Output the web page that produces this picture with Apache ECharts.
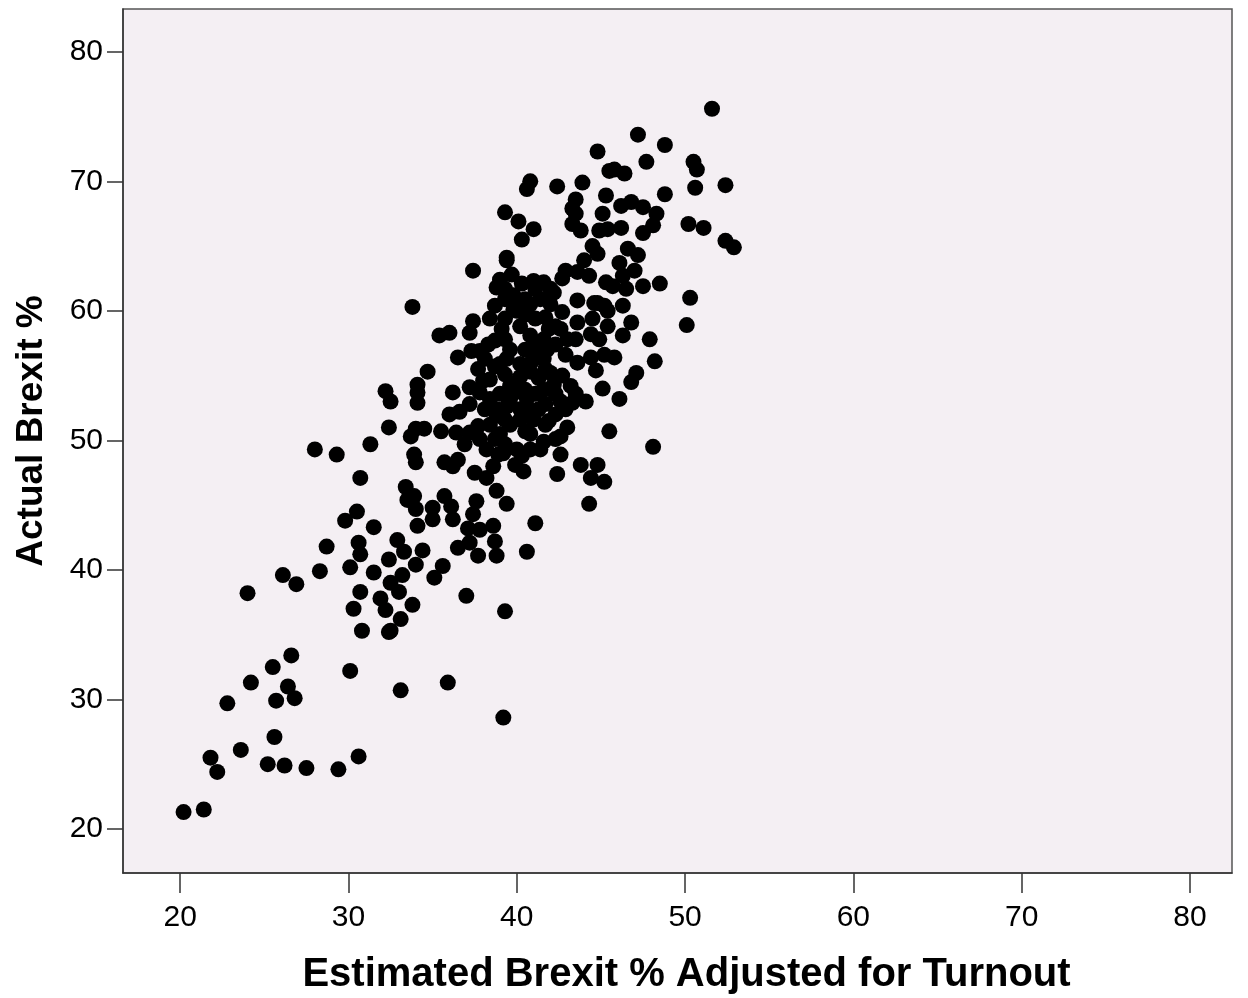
<!DOCTYPE html>
<html>
<head>
<meta charset="utf-8">
<script src="https://cdn.jsdelivr.net/npm/echarts@6/dist/echarts.min.js"></script>
<style>
html,body{margin:0;padding:0;background:#fff;}
#chart{width:1248px;height:998px;}
</style>
</head>
<body>
<div id="chart"></div>
<script>
var xTicks = [20, 30, 40, 50, 60, 70, 80];
var yTicks = [20, 30, 40, 50, 60, 70, 80];
var xTitle = 'Estimated Brexit % Adjusted for Turnout';
var yTitle = 'Actual Brexit %';

var lowerTail = [[20.2,21.3],[21.4,21.5],[21.8,25.5],[22.2,24.4],[22.8,29.7],[23.6,26.1],[24.0,38.2],[24.2,31.3],[25.2,25.0],[25.5,32.5],[25.6,27.1],[25.7,29.9],[26.1,39.6],[26.2,24.9],[26.4,31.0],[26.6,33.4],[26.8,30.1],[26.9,38.9],[27.5,24.7],[28.3,39.9],[29.4,24.6],[30.1,40.2],[30.1,32.2],[30.3,37.0],[30.6,25.6],[30.7,38.3],[30.8,35.3],[31.5,39.8],[31.9,37.8],[32.2,36.9],[32.4,35.2]];

var midCluster = [[32.2,53.8],[32.5,53.0],[34.1,54.3],[34.7,55.3],[34.1,53.7],[34.1,52.9],[36.2,53.7],[36.0,52.0],[36.6,52.2],[32.4,51.0],[33.7,50.3],[34.0,50.9],[34.5,50.9],[35.5,50.7],[36.4,50.6],[28.0,49.3],[29.3,48.9],[31.3,49.7],[33.9,48.9],[34.0,48.3],[35.7,48.3],[36.2,48.0],[36.5,48.5],[30.7,47.1],[33.4,46.4],[33.5,45.4],[33.9,45.7],[34.0,44.7],[34.1,43.4],[35.0,44.8],[35.0,43.9],[35.7,45.7],[36.1,44.9],[36.2,43.9],[30.5,44.5],[29.8,43.8],[31.5,43.3],[28.7,41.8],[30.6,42.1],[30.7,41.2],[32.9,42.3],[33.3,41.4],[34.4,41.5],[32.4,40.8],[34.0,40.4],[33.2,39.6],[32.5,39.0],[35.6,40.3],[35.1,39.4],[33.0,38.3],[33.8,37.3],[33.1,36.2],[32.5,35.3],[37.5,47.5],[38.6,48.0],[40.4,47.6],[37.6,45.3],[37.4,44.3],[37.1,43.2],[36.5,41.7],[37.2,42.1],[37.7,41.1],[38.2,47.1],[38.8,46.1],[39.4,45.1],[37.8,43.1],[38.6,43.4],[38.7,42.2],[38.8,41.1],[41.1,43.6],[40.6,41.4],[37.0,38.0],[39.3,36.8],[33.1,30.7],[35.9,31.3],[39.2,28.6]];

var coreCluster = [[37.4,63.1],[39.4,63.9],[33.8,60.3],[38.8,61.8],[40.3,62.1],[39.8,61.2],[39.8,60.1],[38.7,60.4],[37.4,59.2],[37.2,58.3],[35.4,58.1],[36.0,58.3],[39.1,58.6],[38.7,57.7],[40.2,58.8],[36.5,56.4],[37.3,56.9],[37.8,56.9],[38.7,55.7],[39.4,56.3],[37.2,54.1],[38.0,54.6],[37.8,53.7],[37.2,50.6],[37.7,51.1],[38.4,51.2],[38.8,51.9],[38.2,49.3],[39.2,49.0],[40.0,49.3],[39.4,52.6],[39.6,54.2],[40.0,60.6],[40.0,60.0],[41.0,62.3],[41.6,62.2],[42.2,61.4],[41.7,59.5],[42.7,59.9],[42.3,58.8],[40.8,58.1],[41.6,57.8],[43.0,57.8],[40.9,56.1],[41.8,57.0],[41.6,56.3],[41.3,54.8],[42.0,55.2],[42.7,55.0],[43.2,54.2],[40.0,54.5],[39.9,53.7],[41.6,53.9],[42.6,53.0],[43.3,52.9],[44.1,53.0],[40.6,53.2],[40.2,51.6],[41.0,51.6],[41.9,51.5],[43.0,51.0],[42.6,50.3],[41.6,49.9],[40.3,48.8],[42.4,47.4],[43.8,48.1],[44.8,48.1],[44.4,47.1],[45.2,46.8],[44.3,45.1],[45.5,50.7],[48.1,49.5],[39.3,57.8],[39.6,57.0],[40.5,57.0],[40.2,55.9],[41.1,53.6],[40.7,52.4],[41.7,52.8],[39.3,55.1],[39.0,53.6],[38.4,53.2],[38.1,52.4],[39.6,51.2],[40.8,50.5],[39.0,50.5],[38.7,50.1],[38.1,56.3],[38.3,57.4],[40.8,60.5],[41.4,60.9],[42.0,60.5],[41.1,59.4],[40.5,60.9],[39.3,59.4],[42.9,56.6],[43.6,56.0],[44.4,56.4],[45.2,56.6],[45.8,56.4],[44.7,55.4],[48.2,56.1],[47.1,55.2],[46.8,54.5],[45.1,54.0],[46.1,53.2],[39.3,61.7],[39.7,62.8],[42.3,57.4],[40.5,53.9],[39.3,49.7],[41.4,49.3],[42.3,52.0],[41.2,57.0],[42.2,54.3]];

var coreFill = [[39.0,62.4],[39.3,60.9],[38.4,59.4],[40.5,59.7],[41.1,61.7],[42.0,61.7],[41.9,58.6],[42.6,58.6],[41.1,57.4],[40.2,54.9],[40.8,55.3],[41.7,55.5],[39.6,53.2],[40.2,52.4],[41.3,52.4],[38.8,52.4],[39.3,51.6],[40.5,50.7],[41.7,51.2],[42.3,50.1],[40.8,49.3],[38.9,48.9],[39.9,48.1],[42.6,48.9],[42.9,52.4],[43.5,53.6],[42.3,53.6],[38.4,54.7],[39.0,55.9],[37.7,55.5],[37.2,52.8],[37.8,50.1],[36.9,49.7],[43.5,57.8],[44.4,58.2],[44.9,57.8]];

var upperCluster = [[40.3,65.5],[44.5,65.0],[44.8,64.4],[46.6,64.8],[47.2,64.3],[44.0,63.9],[42.9,63.1],[42.7,62.5],[43.6,63.0],[44.3,62.7],[46.1,63.7],[46.3,62.7],[47.0,63.1],[45.3,62.2],[45.7,61.9],[46.5,61.7],[47.5,61.9],[48.5,62.1],[46.3,60.4],[45.2,60.4],[44.6,60.6],[43.6,60.8],[43.6,59.1],[44.5,59.4],[45.4,58.8],[46.8,59.1],[47.9,57.8],[50.3,61.0],[50.1,58.9],[46.3,58.1],[44.8,72.3],[40.8,70.0],[40.6,69.4],[42.4,69.6],[43.9,69.9],[45.3,68.9],[43.5,68.6],[43.3,67.9],[43.5,67.5],[43.3,66.7],[43.8,66.2],[45.1,67.5],[44.9,66.2],[45.4,66.3],[39.3,67.6],[40.1,66.9],[41.0,66.3],[39.4,64.1],[45.5,70.8],[51.6,75.6],[47.2,73.6],[48.8,72.8],[47.7,71.5],[50.5,71.5],[50.7,70.9],[45.8,70.9],[46.4,70.6],[50.6,69.5],[52.4,69.7],[48.8,69.0],[46.2,68.1],[46.8,68.4],[47.5,68.0],[48.3,67.5],[48.1,66.6],[47.5,66.0],[46.2,66.4],[50.2,66.7],[51.1,66.4],[52.4,65.4],[52.9,64.9],[44.8,60.6],[45.4,60.0]];

var allPoints = lowerTail.concat(midCluster, coreCluster, coreFill, upperCluster);

var chart = echarts.init(document.getElementById('chart'), null, {renderer: 'canvas'});
var font = 'Liberation Sans, Arial, Helvetica, sans-serif';
chart.setOption({
  animation: false,
  backgroundColor: '#ffffff',
  grid: {
    left: 123, right: 16, top: 9, bottom: 125,
    outerBoundsMode: 'none',
    containLabel: false,
    show: true,
    backgroundColor: '#F4EFF3',
    borderColor: '#555555',
    borderWidth: 1.5
  },
  xAxis: {
    type: 'value',
    min: 16.6, max: 82.5,
    name: xTitle,
    nameLocation: 'middle',
    nameGap: 82,
    nameTextStyle: {fontFamily: font, fontSize: 40, fontWeight: 'bold', color: '#000', padding: [0, 0, 0, 18]},
    splitLine: {show: false},
    axisLine: {show: true, lineStyle: {color: '#333', width: 1.5}},
    axisTick: {show: true, length: 20, customValues: xTicks, lineStyle: {color: '#333', width: 1.5}},
    axisLabel: {customValues: xTicks, fontFamily: font, fontSize: 30, color: '#000', margin: 30}
  },
  yAxis: {
    type: 'value',
    min: 16.6, max: 83.3,
    name: yTitle,
    nameLocation: 'middle',
    nameGap: 73,
    nameRotate: 90,
    nameTextStyle: {fontFamily: font, fontSize: 37, fontWeight: 'bold', color: '#000', padding: [0, 0, 0, 20]},
    splitLine: {show: false},
    axisLine: {show: true, lineStyle: {color: '#333', width: 1.5}},
    axisTick: {show: true, length: 16, customValues: yTicks, lineStyle: {color: '#333', width: 1.5}},
    axisLabel: {customValues: yTicks, fontFamily: font, fontSize: 30, color: '#000', margin: 20}
  },
  series: [{
    type: 'scatter',
    data: allPoints,
    symbol: 'circle',
    symbolSize: 16,
    itemStyle: {color: '#000000', opacity: 1},
    clip: true
  }]
});
</script>
</body>
</html>
